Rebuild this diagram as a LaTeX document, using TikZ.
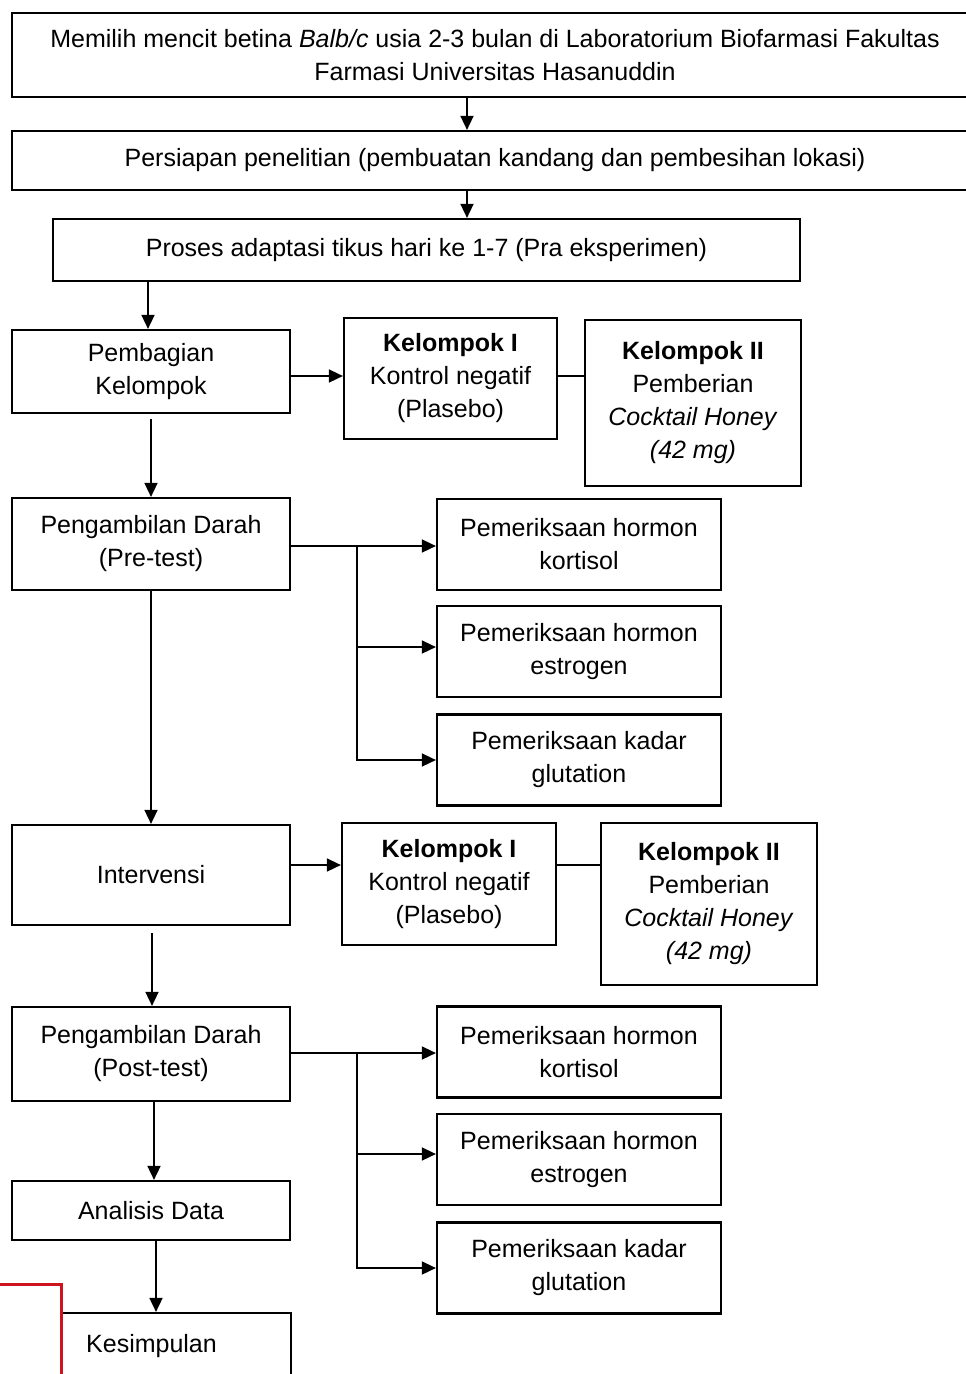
\documentclass[tikz,border=0pt]{standalone}
\usepackage{fontspec}
\setmainfont{Liberation Sans}
\usetikzlibrary{arrows.meta}
\definecolor{markred}{RGB}{205,20,30}

\begin{document}
\begin{tikzpicture}[x=1pt,y=-1pt,
    box/.style={draw,line width=2.2pt,align=center,inner sep=0pt,
      font=\fontsize{25}{33}\selectfont},
    link/.style={line width=1.6pt},
    arr/.style={link,-{Triangle[length=14pt,width=13pt]}}]
    \path[use as bounding box,clip] (0,0) rectangle (966,1374);

    % Preparation
    \node (pilih) [box,minimum width=966,minimum height=84] at (495,55)
      {Memilih mencit betina \textit{Balb/c} usia 2-3 bulan di Laboratorium Biofarmasi Fakultas\\Farmasi Universitas Hasanuddin};
    \node (siap) [box,minimum width=966,minimum height=59] at (495,160.5)
      {Persiapan penelitian (pembuatan kandang dan pembesihan lokasi)};
    \node (adapt) [box,minimum width=747,minimum height=62] at (426.5,250)
      {Proses adaptasi tikus hari ke 1-7 (Pra eksperimen)};
    \draw [arr] ([xshift=-28pt]pilih.south) -- ([xshift=-28pt]siap.north);
    \draw [arr] ([xshift=-28pt]siap.south) -- ([xshift=-28pt]siap.south |- adapt.north);

    % Groups
    \node (bagi) [box,minimum width=278,minimum height=83] at (151,371.5)
      {Pembagian\\Kelompok};
    \node (kelA1) [box,minimum width=213,minimum height=121] at (450.5,378.5)
      {\textbf{Kelompok I}\\Kontrol negatif\\(Plasebo)};
    \node (kelA2) [box,minimum width=216,minimum height=166] at (693,403)
      {\textbf{Kelompok II}\\Pemberian\\\textit{Cocktail Honey}\\\textit{(42 mg)}};
    \draw [arr] ([xshift=-3pt]adapt.south -| bagi.north) -- ([xshift=-3pt]bagi.north);
    \draw [arr] ([yshift=-4.5pt]bagi.east) -- ([yshift=-4.5pt]bagi.east -| kelA1.west);
    \draw [link] ([yshift=-4.5pt]bagi.east -| kelA1.east) -- ([yshift=-4.5pt]bagi.east -| kelA2.west);

    % Pre-test
    \node (pre) [box,minimum width=278,minimum height=92] at (151,544)
      {Pengambilan Darah\\(Pre-test)};
    \node (kortA) [box,minimum width=284,minimum height=91] at (579,544.5)
      {Pemeriksaan hormon\\kortisol};
    \node (estrA) [box,minimum width=284,minimum height=91] at (579,651.5)
      {Pemeriksaan hormon\\estrogen};
    \node (glutA) [box,minimum width=284,minimum height=91] at (579,760)
      {Pemeriksaan kadar\\glutation};
    \draw [arr] ([yshift=-5pt]bagi.south) -- (pre.north);
    \coordinate (splitA) at (357,546);
    \draw [arr] (pre.east |- splitA) -- (kortA.west |- splitA);
    \draw [arr] (splitA) |- ([yshift=4.5pt]estrA.west);
    \draw [arr] (splitA) |- (glutA.west);

    % Intervention
    \node (interv) [box,minimum width=278,minimum height=100] at (151,875)
      {Intervensi};
    \node (kelB1) [box,minimum width=214,minimum height=122] at (449,884)
      {\textbf{Kelompok I}\\Kontrol negatif\\(Plasebo)};
    \node (kelB2) [box,minimum width=216,minimum height=162] at (709,904)
      {\textbf{Kelompok II}\\Pemberian\\\textit{Cocktail Honey}\\\textit{(42 mg)}};
    \draw [arr] (pre.south) -- (interv.north);
    \draw [arr] ([yshift=10pt]interv.east) -- ([yshift=10pt]interv.east -| kelB1.west);
    \draw [link] ([yshift=10pt]interv.east -| kelB1.east) -- ([yshift=10pt]interv.east -| kelB2.west);

    % Post-test
    \node (post) [box,minimum width=278,minimum height=94] at (151,1054)
      {Pengambilan Darah\\(Post-test)};
    \node (kortB) [box,minimum width=284,minimum height=91] at (579,1052)
      {Pemeriksaan hormon\\kortisol};
    \node (estrB) [box,minimum width=284,minimum height=91] at (579,1159.5)
      {Pemeriksaan hormon\\estrogen};
    \node (glutB) [box,minimum width=284,minimum height=91] at (579,1268)
      {Pemeriksaan kadar\\glutation};
    \draw [arr] ([xshift=1pt,yshift=-7pt]interv.south) -- ([xshift=1pt]post.north);
    \coordinate (splitB) at (357,1053);
    \draw [arr] (post.east |- splitB) -- (kortB.west |- splitB);
    \draw [arr] (splitB) |- ([yshift=5.5pt]estrB.west);
    \draw [arr] (splitB) |- (glutB.west);

    % Conclusion
    \node (anal) [box,minimum width=278,minimum height=59] at (151,1210.5)
      {Analisis Data};
    \node (simp) [box,minimum width=279,minimum height=66] at (151.5,1346)
      {Kesimpulan};
    \draw [arr] ([xshift=3pt]post.south) -- ([xshift=3pt]post.south |- anal.north);
    \draw [arr] ([xshift=5pt]anal.south) -- ([xshift=5pt]anal.south |- simp.north);

    % Red mark over the corner
    \draw [markred,line width=3pt,fill=white] (-10,1284) rectangle (61,1400);
\end{tikzpicture}
\end{document}
